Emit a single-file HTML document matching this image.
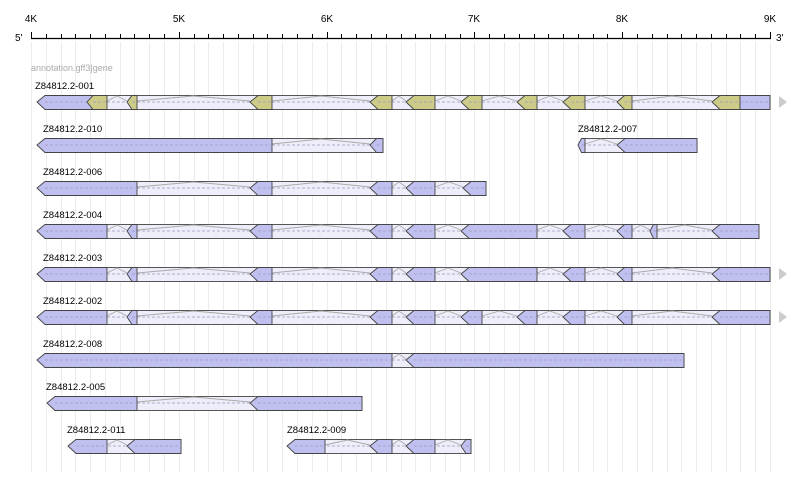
<!DOCTYPE html>
<html><head><meta charset="utf-8"><style>
html,body{margin:0;padding:0;background:#fff;width:800px;height:486px;overflow:hidden}
svg{display:block;font-family:"Liberation Sans",sans-serif}
</style></head><body>
<svg id="s" width="800" height="486" xmlns="http://www.w3.org/2000/svg">
<g id="grid"></g>
<g font-size="10" fill="#000">
<text x="31" y="22" text-anchor="middle">4K</text>
<text x="179" y="22" text-anchor="middle">5K</text>
<text x="327" y="22" text-anchor="middle">6K</text>
<text x="474" y="22" text-anchor="middle">7K</text>
<text x="622" y="22" text-anchor="middle">8K</text>
<text x="770" y="22" text-anchor="middle">9K</text>
<text x="15" y="41">5'</text>
<text x="776" y="41">3'</text>
</g>
<line x1="31" y1="38.5" x2="771" y2="38.5" stroke="#000" stroke-width="1.2"/>
<g id="ticks"></g>
<text x="31" y="71" font-size="9" fill="#aaa">annotation.gff3|gene</text>
<g font-size="9.5" fill="#000">
<text x="35" y="89">Z84812.2-001</text>
<text x="43" y="132">Z84812.2-010</text>
<text x="578" y="132">Z84812.2-007</text>
<text x="43" y="175">Z84812.2-006</text>
<text x="43" y="218">Z84812.2-004</text>
<text x="43" y="261">Z84812.2-003</text>
<text x="43" y="304">Z84812.2-002</text>
<text x="43" y="347">Z84812.2-008</text>
<text x="46" y="390">Z84812.2-005</text>
<text x="67" y="433">Z84812.2-011</text>
<text x="287" y="433">Z84812.2-009</text>
</g>
<g id="genes"></g>
</svg>
<script>
var NS="http://www.w3.org/2000/svg";
function el(p,t,a){var e=document.createElementNS(NS,t);for(var k in a)e.setAttribute(k,a[k]);p.appendChild(e);return e;}
var g=document.getElementById('grid'),tk=document.getElementById('ticks'),gn=document.getElementById('genes');
var step=739/50;
for(var i=0;i<=50;i++){var x=Math.round(31+i*step)+0.5;
 el(g,'line',{x1:x,y1:42,x2:x,y2:472,stroke:'#ececec','stroke-width':1});
 el(tk,'line',{x1:x,y1:i%10==0?32:34,x2:x,y2:38,stroke:'#000','stroke-width':1});}
var K='#cccc88',P='#c0c0f0';
var rows=[
[102,[[37,92,P],[87,107,K,1],[127,137,K],[250,272,K],[370,392,K],[406,435,K],[461,482,K],[517,537,K],[563,585,K],[617,632,K],[712,740,K],[740,770,P]],1],
[145,[[37,272,P],[370,383,P]]],
[145,[[578,585,P],[617,697,P]]],
[188,[[37,137,P],[250,272,P],[370,392,P],[406,435,P],[463,486,P]]],
[231,[[37,107,P],[127,137,P],[250,272,P],[370,392,P],[406,435,P],[461,537,P],[563,585,P],[617,632,P],[650,657,P],[712,759,P]]],
[274,[[37,107,P],[127,137,P],[250,272,P],[370,392,P],[406,435,P],[461,537,P],[563,585,P],[617,632,P],[712,770,P]],1],
[317,[[37,107,P],[127,137,P],[250,272,P],[370,392,P],[406,435,P],[461,482,P],[517,537,P],[563,585,P],[617,632,P],[712,770,P]],1],
[360,[[37,392,P],[406,684,P]]],
[403,[[47,137,P],[250,362,P]]],
[446,[[68,107,P],[127,181,P]]],
[446,[[287,325,P],[370,392,P],[406,435,P],[461,471,P]]]
];
rows.forEach(function(r){
 var y=r[0],ex=r[1],t=y-7,b=y+7,s=ex[0][0],e=ex[ex.length-1][1];
 var ind=Math.min(8,(ex[0][1]-s)/2);
 el(gn,'rect',{x:s+ind,y:t+0.5,width:e-s-ind,height:14,fill:'#eeeefa',stroke:'#555','stroke-width':1});
 el(gn,'line',{x1:s,y1:y,x2:e,y2:y,stroke:'#9999bb','stroke-width':0.8,'stroke-dasharray':'3,2'});
 for(var i=0;i<ex.length-1;i++){var a=ex[i][1],c=ex[i+1][0];if(c-a>2){
  el(gn,'polyline',{points:a+','+(y-1)+' '+((a+c)/2)+','+(t+1)+' '+c+','+(y-1),fill:'none',stroke:'#aaa','stroke-width':0.9});}}
 ex.forEach(function(q,i){
  var x0=q[0],x1=q[1],col=q[2];
  var pointed=q[3]||!(i>0&&ex[i-1][1]==x0);
  var d=pointed?Math.min(8,(x1-x0)/2):0;
  if(q[3])d=6;
  var pts=pointed?[x0,y,x0+d,t+0.5,x1,t+0.5,x1,b+0.5,x0+d,b+0.5]:[x0,t+0.5,x1,t+0.5,x1,b+0.5,x0,b+0.5];
  el(gn,'polygon',{points:pts.join(' '),fill:col,stroke:'#444','stroke-width':0.9});
  el(gn,'line',{x1:x0+d,y1:y,x2:x1,y2:y,stroke:'#9999bb','stroke-width':0.8,'stroke-dasharray':'3,2'});
 });
 if(r[2])el(gn,'polygon',{points:'779,'+(y-6)+' 787,'+y+' 779,'+(y+6),fill:'#ccc'});
});
</script>
</body></html>
